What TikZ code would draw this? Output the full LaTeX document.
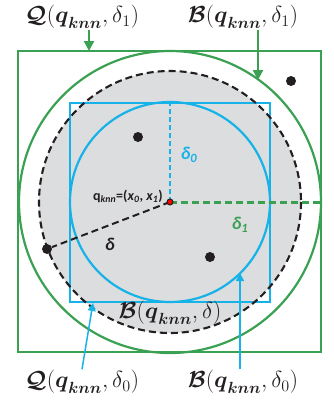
\documentclass[tikz,border=0pt]{standalone}
\usepackage{amsmath,amssymb}
\usepackage{fontspec}
\newfontfamily\callfont{Carlito}
\usetikzlibrary{arrows.meta}

\definecolor{qgreen}{RGB}{58,160,82}
\definecolor{qblue}{RGB}{22,178,232}
\definecolor{qgray}{RGB}{220,221,223}
\definecolor{qdark}{RGB}{35,31,32}

\newcommand{\qk}{\boldsymbol{q}_{\boldsymbol{knn}}}
\newcommand{\calQ}{\boldsymbol{\mathcal{Q}}}
\newcommand{\calB}{\boldsymbol{\mathcal{B}}}
\newcommand{\biglabel}[1]{\scalebox{1.12}{#1}}

\begin{document}
\begin{tikzpicture}[x=1pt,y=-1pt,>={Triangle[width=10pt,length=10pt]},
    biglab/.style={font=\huge,text=qdark,inner sep=1pt},
    smalllab/.style={font=\callfont\bfseries\itshape\fontsize{18}{20}\selectfont},
    dot/.style={circle,fill=qdark,inner sep=0pt,minimum size=10pt}]
  \useasboundingbox (0,0) rectangle (333,400);
  \coordinate (c) at (170,202);

  % disc of radius delta
  \fill[qgray] (c) circle[radius=131];
  \draw[qblue,line width=2.2pt] (70,103) rectangle (270,302);
  \draw[qblue,line width=2.2pt] (c) circle[radius=100];
  \draw[qdark,line width=2.1pt,dash pattern=on 7pt off 4pt] (c) circle[radius=131];
  \draw[qgreen,line width=2.2pt] (c) circle[radius=151];
  \draw[qgreen,line width=2.2pt] (18,51) rectangle (321,352);

  % points
  \node[dot] (d1) at (291,81) {};
  \node[dot] (d2) at (138,137) {};
  \node[dot] (d3) at (210,257) {};
  \node[dot] (d4) at (47,249) {};

  % radii
  \coordinate (r0) at (170,103);
  \coordinate (r1) at (321,202);
  \draw[qblue,line width=1.5pt,dash pattern=on 5pt off 3pt] (c) -- (r0);
  \draw[qgreen,line width=3pt,dash pattern=on 7pt off 4pt] (c) -- (r1);
  \draw[qdark,line width=2pt,dash pattern=on 7pt off 4pt] (c) -- (d4);
  \node[circle,draw=qdark,fill=red,inner sep=0pt,minimum size=6pt,line width=1pt] (q) at (c) {};

  \node[smalllab,text=qblue] (dl0) at (189,155) {δ\textsubscript{0}};
  \node[smalllab,text=qgreen] (dl1) at (240,225) {δ\textsubscript{1}};
  \node[smalllab,text=qdark] (dl) at (110,244) {δ};
  \node[anchor=east,font=\callfont\bfseries\fontsize{14}{16}\selectfont,text=qdark,inner sep=1pt] (ql) at (164,196)
    {q\textsubscript{\itshape knn}=(\textit{x}\textsubscript{\itshape 0}, \textit{x}\textsubscript{\itshape 1})};

  % labels with arrows
  \node[biglab] (lQ1) at (82,17) {\biglabel{$\calQ(\qk,\delta_1)$}};
  \node[biglab] (lB1) at (243,17) {\biglabel{$\calB(\qk,\delta_1)$}};
  \node[biglab] (lB) at (170,313) {\biglabel{$\calB(\qk,\delta)$}};
  \node[biglab] (lQ0) at (82,382) {\biglabel{$\calQ(\qk,\delta_0)$}};
  \node[biglab] (lB0) at (243,382) {\biglabel{$\calB(\qk,\delta_0)$}};

  \coordinate (t1) at (89,51);
  \coordinate (t2) at (258,80);
  \coordinate (t3) at (93,303);
  \coordinate (t4) at (240,273);
  \draw[->,qgreen,line width=2.2pt] (lQ1.south -| t1) -- (t1);
  \draw[->,qgreen,line width=2.2pt] (lB1.south -| t2) -- (t2);
  \draw[->,qblue,line width=1.5pt,>={Triangle[width=8pt,length=8pt]}] (lQ0.north) -- (t3);
  \draw[->,qblue,line width=1.5pt,>={Triangle[width=8pt,length=8pt]}] (lB0.north -| t4) -- (t4);
\end{tikzpicture}
\end{document}
